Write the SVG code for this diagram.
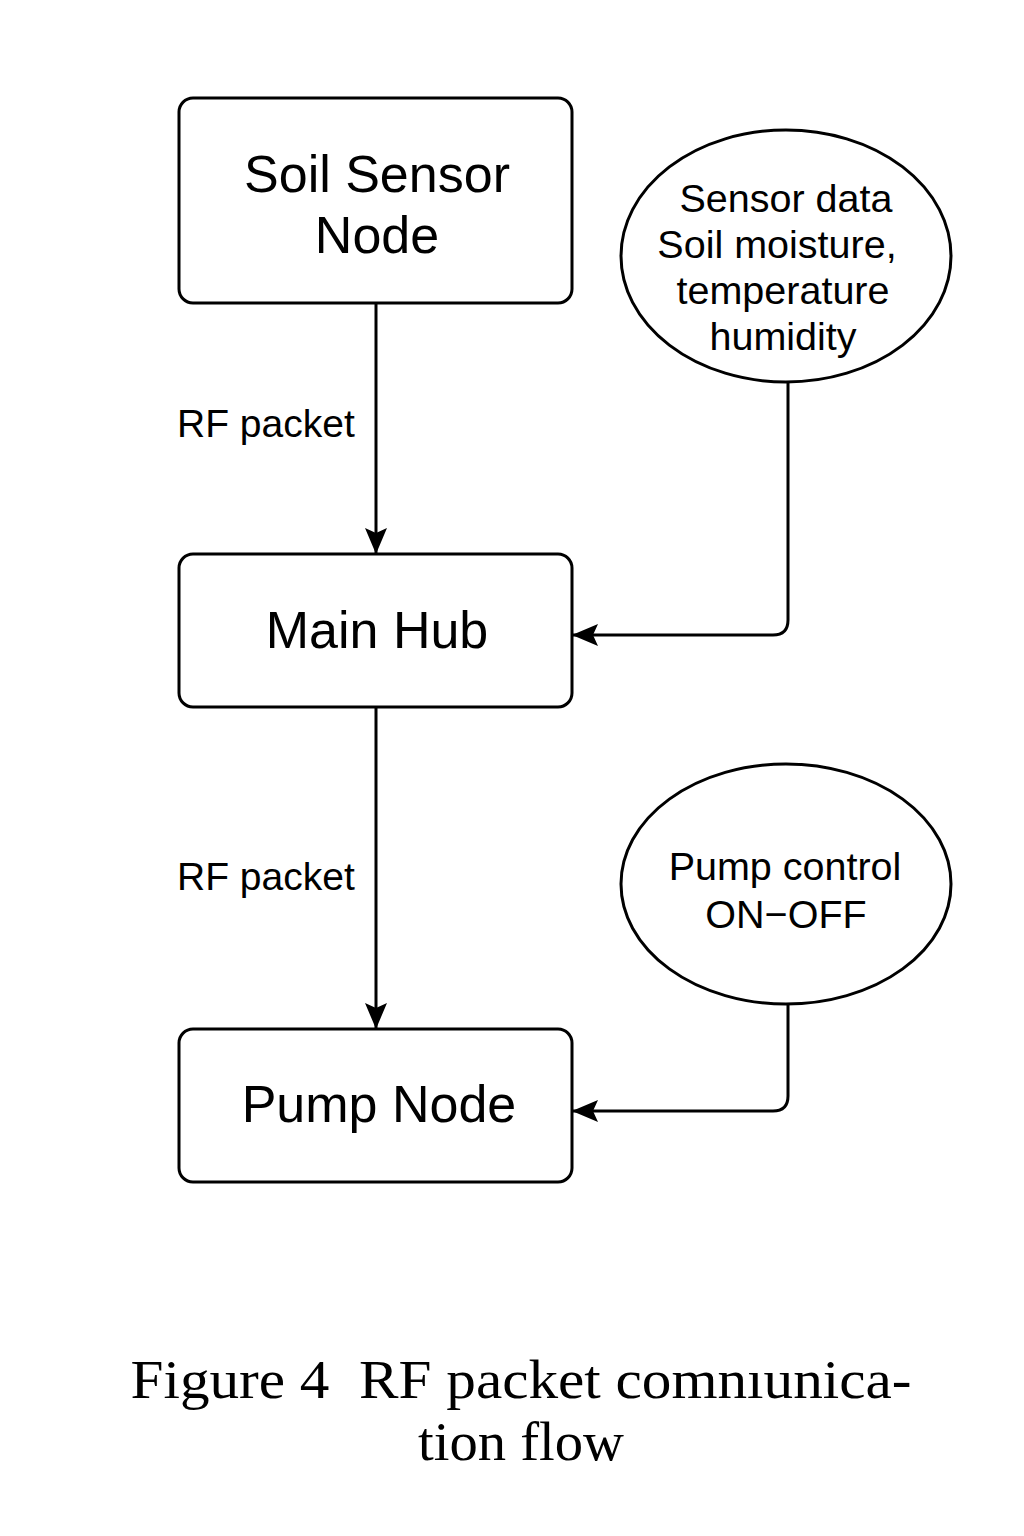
<svg xmlns="http://www.w3.org/2000/svg" width="1024" height="1536" viewBox="0 0 1024 1536">
<defs>
<style>
.box{fill:#fff;stroke:#000;stroke-width:3}
.t{font-family:"Liberation Sans",Arial,sans-serif;fill:#000;text-anchor:middle}
.big{font-size:52px}
.mid{font-size:39.5px}
.lbl{font-family:"Liberation Sans",Arial,sans-serif;font-size:39px;fill:#000}
.cap{font-family:"Liberation Serif","Times New Roman",serif;font-size:54px;fill:#000;text-anchor:middle}
.ln{fill:none;stroke:#000;stroke-width:3}
</style>
<marker id="arr" viewBox="0 0 26 22" refX="25" refY="11" markerWidth="26" markerHeight="22" orient="auto" markerUnits="userSpaceOnUse">
<path d="M0,0 L26,11 L0,22 L5,11 Z" fill="#000"/>
</marker>
</defs>
<rect width="1024" height="1536" fill="#fff"/>
<g id="connectors">
<line class="ln" x1="376" y1="303" x2="376" y2="553" marker-end="url(#arr)"/>
<line class="ln" x1="376" y1="707" x2="376" y2="1028" marker-end="url(#arr)"/>
<path class="ln" d="M788,382 V620 Q788,635 773,635 H573" marker-end="url(#arr)"/>
<path class="ln" d="M788,1004 V1096 Q788,1111 773,1111 H573" marker-end="url(#arr)"/>
<text class="lbl" x="177" y="437">RF packet</text>
<text class="lbl" x="177" y="890">RF packet</text>
</g>
<g id="soil-sensor-node">
<rect class="box" x="179" y="98" width="393" height="205" rx="14"/>
<text class="t big" x="377" y="192">Soil Sensor</text>
<text class="t big" x="377" y="253">Node</text>
</g>
<g id="sensor-data">
<ellipse class="box" cx="786" cy="256" rx="165" ry="126"/>
<text class="t mid" x="786" y="212">Sensor data</text>
<text class="t mid" x="777" y="258">Soil moisture,</text>
<text class="t mid" x="783" y="304">temperature</text>
<text class="t mid" x="783" y="350">humidity</text>
</g>
<g id="main-hub">
<rect class="box" x="179" y="554" width="393" height="153" rx="14"/>
<text class="t big" x="377" y="648">Main Hub</text>
</g>
<g id="pump-control">
<ellipse class="box" cx="786" cy="884" rx="165" ry="120"/>
<text class="t mid" x="785" y="880">Pump control</text>
<text class="t mid" x="786" y="928">ON−OFF</text>
</g>
<g id="pump-node">
<rect class="box" x="179" y="1029" width="393" height="153" rx="14"/>
<text class="t big" x="379" y="1122">Pump Node</text>
</g>
<g id="caption">
<text class="cap" x="521" y="1398" textLength="781" lengthAdjust="spacingAndGlyphs" xml:space="preserve">Figure 4  RF packet comnıunica-</text>
<text class="cap" x="521" y="1460" textLength="206" lengthAdjust="spacingAndGlyphs">tion flow</text>
</g>
</svg>
